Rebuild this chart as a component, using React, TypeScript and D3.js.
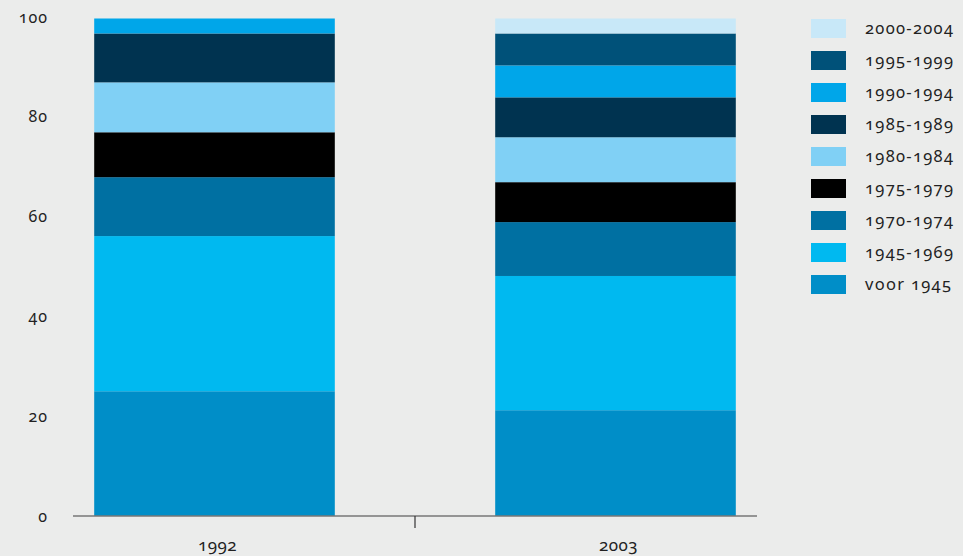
import React from "react";
import * as d3 from "d3";

const years = ["1992", "2003"];
const periods = ["voor 1945", "1945-1969", "1970-1974", "1975-1979", "1980-1984", "1985-1989", "1990-1994", "1995-1999", "2000-2004"];
const values1992 = [25.0, 31.1, 11.8, 9.0, 10.0, 9.8, 3.0, 0, 0];
const values2003 = [21.2, 26.9, 10.8, 8.0, 9.0, 8.0, 6.4, 6.4, 3.0];
const colors = ["#008ec8", "#00b9f0", "#0070a2", "#000000", "#80d0f5", "#003350", "#00a6e9", "#005179", "#c8e8f8"];
const yTicks = [0, 20, 40, 60, 80, 100];

const W = 963, H = 556;
const FONT = "'Noto Sans', 'Open Sans', sans-serif";

export default function App() {
  const y = d3.scaleLinear().domain([0, 100]).range([516, 17]);
  const x = d3.scaleBand().domain(years).range([14, 816]).paddingInner(0.4).paddingOuter(0.2);
  const rows = years.map((yr, i) => {
    const vals = i === 0 ? values1992 : values2003;
    const o: any = { year: yr };
    periods.forEach((p, j) => (o[p] = vals[j]));
    return o;
  });
  const series = d3.stack().keys(periods)(rows);
  const textStyle = { fontFamily: FONT, fontVariantNumeric: "oldstyle-nums" as const, fill: "#222" };

  return (
    <div style={{ position: "fixed", left: 0, top: 0 }}>
      <svg width={W} height={H} style={{ display: "block" }}>
        <rect width={W} height={H} fill="#ebeceb" />
        {series.map((s, si) =>
          s.map((d, di) =>
            d[1] - d[0] > 0 ? (
              <rect
                key={`${si}-${di}`}
                x={x(years[di])!}
                width={x.bandwidth()}
                y={y(d[1])}
                height={y(d[0]) - y(d[1])}
                fill={colors[si]}
              />
            ) : null
          )
        )}
        <line x1={73} x2={757} y1={y(0)} y2={y(0)} stroke="#777" strokeWidth={1.5} />
        <line x1={415} x2={415} y1={y(0)} y2={y(0) + 12} stroke="#333" strokeWidth={1.2} />
        {yTicks.map((t) => (
          <text key={t} x={48} y={y(t)} dy="0.35em" textAnchor="end" fontSize={16} letterSpacing={1} style={textStyle}>
            {t}
          </text>
        ))}
        {years.map((yr) => (
          <text key={yr} x={x(yr)! + x.bandwidth() / 2 + 3} y={545} dy="0.35em" textAnchor="middle" fontSize={17} letterSpacing={0.5} style={textStyle}>
            {yr}
          </text>
        ))}
        {periods
          .slice()
          .reverse()
          .map((p, i) => {
            const ci = periods.length - 1 - i;
            const cy = 28.5 + i * 32;
            return (
              <g key={p}>
                <rect x={811} y={cy - 9.5} width={35} height={19} fill={colors[ci]} />
                <text x={865} y={cy} dy="0.35em" fontSize={16.5} letterSpacing={1.3} style={textStyle}>
                  {p}
                </text>
              </g>
            );
          })}
      </svg>
    </div>
  );
}
